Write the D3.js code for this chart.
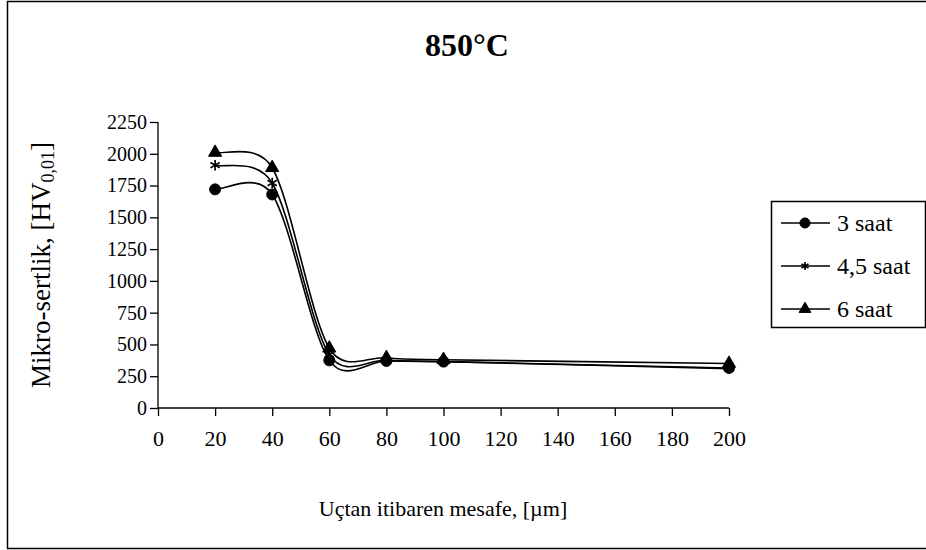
<!DOCTYPE html>
<html>
<head>
<meta charset="utf-8">
<script src="https://cdn.jsdelivr.net/npm/d3@7"></script>
<style>
  body { margin: 0; background: #fff; }
  svg text { font-family: "Liberation Serif", "Times New Roman", serif; fill: #000; }
</style>
</head>
<body>
<div id="chart"></div>
<script>
// distances from the tip, in µm
var distances = [20, 40, 60, 80, 100, 200];
var seriesNames = ["3 saat", "4,5 saat", "6 saat"];
var saat3 = [1720, 1680, 375, 370, 365, 315];
var saat45 = [1910, 1770, 420, 375, 365, 310];
var saat6 = [2010, 1890, 470, 395, 380, 350];
var xTicks = [0, 20, 40, 60, 80, 100, 120, 140, 160, 180, 200];
var yTicks = [0, 250, 500, 750, 1000, 1250, 1500, 1750, 2000, 2250];

var serif = '"Liberation Serif", "Times New Roman", serif';
var width = 926, height = 550;
var margin = { top: 122, right: 197, bottom: 142, left: 158 };
var w = width - margin.left - margin.right,
    h = height - margin.top - margin.bottom;

var svg = d3.select("#chart").append("svg")
    .attr("width", width)
    .attr("height", height)
    .attr("font-family", serif);

// outer frame
svg.append("rect")
    .attr("x", 7.5).attr("y", 1.5)
    .attr("width", 930).attr("height", 547)
    .attr("fill", "none").attr("stroke", "#000").attr("stroke-width", 1.5);

svg.append("text")
    .attr("x", 467).attr("y", 56)
    .attr("text-anchor", "middle")
    .style("font-size", "32px").style("font-weight", "bold")
    .text("850°C");

var g = svg.append("g")
    .attr("transform", "translate(" + margin.left + "," + margin.top + ")");

var x = d3.scaleLinear().domain([0, 200]).range([0, w]);
var y = d3.scaleLinear().domain([0, 2250]).range([h, 0]);

var xAxis = g.append("g")
    .attr("transform", "translate(0," + h + ")")
    .call(d3.axisBottom(x).tickValues(xTicks).tickFormat(d3.format("d")).tickSize(8).tickPadding(14));
var yAxis = g.append("g")
    .call(d3.axisLeft(y).tickValues(yTicks).tickFormat(d3.format("d")).tickSize(8).tickPadding(3));

[xAxis, yAxis].forEach(function(a) {
    a.attr("font-family", serif);
    a.selectAll("path, line").attr("stroke", "#000").attr("stroke-width", 1.3);
    a.selectAll("text")
        .style("font-family", serif)
        .style("font-size", a === xAxis ? "22px" : "20px")
        .attr("fill", "#000");
    a.select(".domain").attr("d", a === xAxis ? "M0,0H" + w : "M0,0V" + h);
});

// axis titles
svg.append("text")
    .attr("x", 443).attr("y", 516)
    .attr("text-anchor", "middle")
    .style("font-size", "22px")
    .text("Uçtan itibaren mesafe, [µm]");

var yt = svg.append("text")
    .attr("transform", "translate(50,265) rotate(-90)")
    .attr("text-anchor", "middle")
    .style("font-size", "27px");
yt.append("tspan").text("Mikro-sertlik, [HV");
yt.append("tspan").attr("dy", 4).style("font-size", "18px").text("0,01");
yt.append("tspan").attr("dy", -4).text("]");

var allSeries = [saat3, saat45, saat6];
var symbols = [d3.symbolCircle, d3.symbolAsterisk, d3.symbolTriangle];
var symSizes = [95, 80, 75];

// smoothed line in the spreadsheet style: Catmull-Rom tangents (1/6),
// with each control arm capped at half of the segment length
function smoothPath(vals) {
    var pts = vals.map(function(d, i) { return [x(distances[i]), y(d)]; });
    var p = d3.path();
    var dist = function(a, b) { return Math.hypot(b[0] - a[0], b[1] - a[1]); };
    p.moveTo(pts[0][0], pts[0][1]);
    for (var i = 0; i < pts.length - 1; i++) {
        var p0 = pts[Math.max(i - 1, 0)], p1 = pts[i], p2 = pts[i + 1],
            p3 = pts[Math.min(i + 2, pts.length - 1)];
        var d12 = dist(p1, p2), d02 = dist(p0, p2), d13 = dist(p1, p3);
        var f0 = 1 / 6, f1 = 1 / 6;
        if (d02 / 6 > d12 / 2) f0 = d12 / (2 * d02);
        if (d13 / 6 > d12 / 2) f1 = d12 / (2 * d13);
        p.bezierCurveTo(
            p1[0] + f0 * (p2[0] - p0[0]), p1[1] + f0 * (p2[1] - p0[1]),
            p2[0] - f1 * (p3[0] - p1[0]), p2[1] - f1 * (p3[1] - p1[1]),
            p2[0], p2[1]);
    }
    return p.toString();
}

function drawSymbol(sel, k, size) {
    var filled = symbols[k] !== d3.symbolAsterisk;
    sel.attr("d", d3.symbol().type(symbols[k]).size(size))
        .attr("fill", filled ? "#000" : "none")
        .attr("stroke", "#000")
        .attr("stroke-width", filled ? 1 : 1.7);
}

allSeries.forEach(function(vals, k) {
    g.append("path")
        .attr("d", smoothPath(vals))
        .attr("fill", "none")
        .attr("stroke", "#000")
        .attr("stroke-width", 1.6);

    g.selectAll(".m" + k)
        .data(vals)
        .enter()
        .append("path")
        .attr("class", "m" + k)
        .attr("transform", function(d, i) {
            return "translate(" + x(distances[i]) + "," + y(d) + ")";
        })
        .call(drawSymbol, k, symSizes[k]);
});

// legend
var legend = svg.append("g").attr("transform", "translate(771,201)");
legend.append("rect")
    .attr("x", 0.5).attr("y", 0.5)
    .attr("width", 154).attr("height", 126)
    .attr("fill", "#fff").attr("stroke", "#000").attr("stroke-width", 1.5);

seriesNames.forEach(function(name, k) {
    var row = legend.append("g").attr("transform", "translate(0," + (22 + k * 43) + ")");
    row.append("line")
        .attr("x1", 10).attr("x2", 59)
        .attr("stroke", "#000").attr("stroke-width", 1.5);
    row.append("path")
        .attr("transform", "translate(34,0)")
        .call(drawSymbol, k, [80, 45, 60][k]);
    row.append("text")
        .attr("x", 66).attr("y", 8)
        .style("font-size", "24px")
        .text(name);
});
</script>
</body>
</html>
